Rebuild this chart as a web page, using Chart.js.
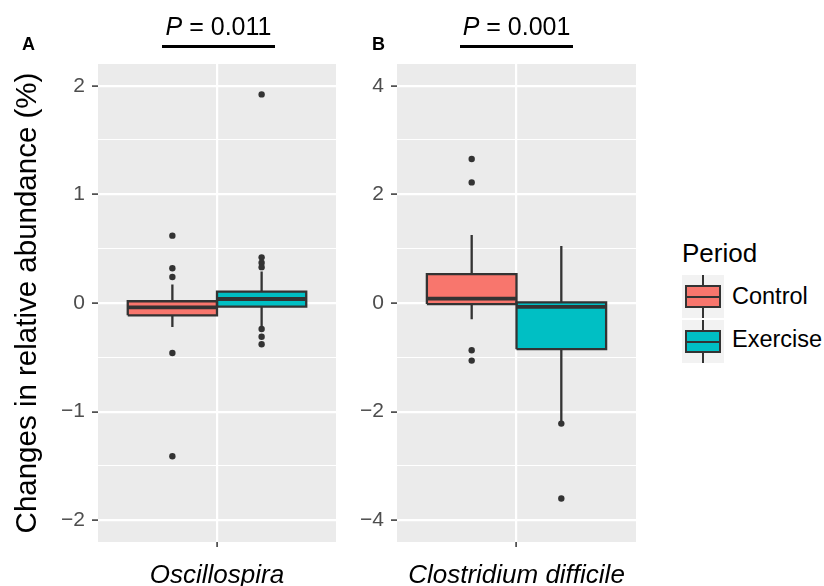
<!DOCTYPE html>
<html>
<head>
<meta charset="utf-8">
<script src="https://cdn.jsdelivr.net/npm/chart.js@4.4.1/dist/chart.umd.min.js"></script>
<style>
  body { margin: 0; background: #fff; font-family: "Liberation Sans", Arial, sans-serif; }
  #wrap { position: relative; width: 824px; height: 586px; overflow: hidden; }
  canvas { position: absolute; top: 0; }
  .txt { position: absolute; line-height: 1; white-space: nowrap; color: #000; }
  .tag { font-size: 18px; font-weight: bold; }
  .ptitle { font-size: 25px; width: 200px; text-align: center; }
  .uline { position: absolute; height: 2.5px; background: #000; }
  .key { position: absolute; left: 682px; width: 42px; height: 43px; background: #F2F2F2; }
  .key .wh { position: absolute; left: 20px; top: 0; width: 2px; height: 43px; background: #333; }
  .key .bx { position: absolute; left: 3px; top: 10px; width: 32px; height: 19px; border: 2px solid #333; }
  .key .md { position: absolute; left: 3px; top: 20.5px; width: 36px; height: 2px; background: #333; }
</style>
</head>
<body>
<div id="wrap">
  <canvas id="chartA" width="340" height="586" style="left:0"></canvas>
  <canvas id="chartB" width="300" height="586" style="left:340px"></canvas>

  <div class="txt tag" style="left:22px;top:35px">A</div>
  <div class="txt tag" style="left:372px;top:35px">B</div>

  <div class="txt ptitle" id="pA" style="left:118.5px;top:13.5px"></div>
  <div class="uline" style="left:162px;top:45px;width:113px"></div>
  <div class="txt ptitle" id="pB" style="left:416.5px;top:13.5px"></div>
  <div class="uline" style="left:460px;top:45px;width:113px"></div>

  <div class="txt" style="left:682px;top:240px;font-size:26px">Period</div>
  <div class="key" style="top:275px"><div class="wh"></div><div class="bx" style="background:#F8766D"></div><div class="md"></div></div>
  <div class="key" style="top:320px"><div class="wh"></div><div class="bx" style="background:#00BFC4"></div><div class="md"></div></div>
  <div class="txt" id="lab0" style="left:732px;top:285px;font-size:23.5px"></div>
  <div class="txt" id="lab1" style="left:732px;top:328px;font-size:23.5px"></div>
</div>

<script>
const taxa = ['Oscillospira', 'Clostridium difficile'];
const periods = ['Control', 'Exercise'];
const pValues = ['0.011', '0.001'];

// Oscillospira (panel A)
const oscLower = [-0.22, -0.22];
const oscQ1 = [-0.113, -0.034];
const oscMedian = [-0.04, 0.037];
const oscQ3 = [0.016, 0.104];
const oscUpper = [0.17, 0.29];
const oscOutliers = [
  [0.62, 0.32, 0.24, -0.46, -1.41],
  [1.92, 0.42, 0.37, 0.33, -0.24, -0.31, -0.38]
];

// Clostridium difficile (panel B)
const cdLower = [-0.30, -2.22];
const cdQ1 = [-0.02, -0.85];
const cdMedian = [0.08, -0.07];
const cdQ3 = [0.53, 0.01];
const cdUpper = [1.25, 1.05];
const cdOutliers = [
  [2.65, 2.22, -0.87, -1.06],
  [-2.22, -3.6]
];

// tick labels and grid positions
const labelsA = [-2, -1, 0, 1, 2];
const gridA = [-2, -1.5, -1, -0.5, 0, 0.5, 1, 1.5, 2];
const labelsB = [-4, -2, 0, 2, 4];
const gridB = [-4, -3, -2, -1, 0, 1, 2, 3, 4];

// box x positions (dodged, category at 0, range -0.5..0.5)
const boxLeft = [-0.375, 0];
const boxRight = [0, 0.375];

const fills = ['#F8766D', '#00BFC4'];
const dark = '#333333';

Chart.defaults.font.family = '"Liberation Sans", Arial, sans-serif';

document.getElementById('pA').innerHTML = '<i>P</i> = ' + pValues[0];
document.getElementById('pB').innerHTML = '<i>P</i> = ' + pValues[1];
document.getElementById('lab0').textContent = periods[0];
document.getElementById('lab1').textContent = periods[1];

const panelBg = {
  id: 'panelBg',
  beforeDraw(chart) {
    const a = chart.chartArea;
    const ctx = chart.ctx;
    ctx.save();
    ctx.fillStyle = '#EBEBEB';
    ctx.fillRect(a.left, a.top, a.right - a.left, a.bottom - a.top);
    ctx.restore();
  }
};

const fmt = v => (v < 0 ? '\u2212' + Math.abs(v) : String(v));

function makePanel(id, o) {
  const datasets = [];
  periods.forEach((p, i) => {
    const x0 = boxLeft[i], x1 = boxRight[i], c = (x0 + x1) / 2;
    const line = { type: 'line', pointRadius: 0, fill: false, borderColor: dark,
                   borderCapStyle: 'butt', borderJoinStyle: 'miter', tension: 0 };
    // whiskers
    datasets.push({ ...line, label: p + ' whisker', borderWidth: 2.3, order: 5,
      data: [{x: c, y: o.q3[i]}, {x: c, y: o.hi[i]}, {x: c, y: null}, {x: c, y: o.q1[i]}, {x: c, y: o.lo[i]}] });
    // box fill
    datasets.push({ ...line, label: p, borderWidth: 0, order: 4,
      fill: { value: o.q1[i] }, backgroundColor: fills[i],
      data: [{x: x0, y: o.q3[i]}, {x: x1, y: o.q3[i]}] });
    // box outline
    datasets.push({ ...line, label: p + ' box', borderWidth: 2.3, order: 2,
      data: [{x: x0, y: o.q1[i]}, {x: x0, y: o.q3[i]}, {x: x1, y: o.q3[i]}, {x: x1, y: o.q1[i]}, {x: x0, y: o.q1[i]}] });
    // median
    datasets.push({ ...line, label: p + ' median', borderWidth: 3.8, order: 1,
      data: [{x: x0, y: o.med[i]}, {x: x1, y: o.med[i]}] });
    // outliers
    datasets.push({ type: 'scatter', label: p + ' outliers', order: 0,
      data: o.out[i].map(v => ({x: c, y: v})),
      pointRadius: 3.2, pointBackgroundColor: dark, pointBorderWidth: 0 });
  });

  return new Chart(document.getElementById(id), {
    type: 'scatter',
    data: { datasets },
    options: {
      responsive: false,
      animation: false,
      layout: { padding: { top: 64, right: o.padRight, left: 0, bottom: 0 } },
      plugins: { legend: { display: false }, tooltip: { enabled: false } },
      scales: {
        x: {
          type: 'linear', min: -0.5, max: 0.5, offset: false,
          afterBuildTicks: s => { s.ticks = [{ value: 0 }]; },
          afterFit: s => { s.height = 44; },
          border: { display: false },
          grid: { color: '#fff', lineWidth: 2.2, tickColor: dark, tickLength: 5, tickWidth: 1.5 },
          ticks: { color: '#000', padding: 13, font: { size: 26, style: 'italic' },
                   callback: () => o.taxon }
        },
        y: {
          type: 'linear', min: o.yMin, max: o.yMax,
          afterBuildTicks: s => { s.ticks = o.grid.map(v => ({ value: v })); },
          afterFit: s => { s.width = o.axisWidth; },
          border: { display: false },
          grid: {
            color: '#fff',
            lineWidth: ctx => (o.labels.includes(ctx.tick.value) ? 2.2 : 1.1),
            tickColor: ctx => (o.labels.includes(ctx.tick.value) ? dark : 'rgba(0,0,0,0)'),
            tickLength: 6, tickWidth: 1.5
          },
          ticks: {
            autoSkip: false, color: '#4D4D4D', padding: 7, font: { size: 21 },
            callback: v => (o.labels.includes(v) ? fmt(v) : '')
          },
          title: {
            display: !!o.yTitle, text: o.yTitle || '', color: '#000',
            font: { size: 29.5 }, padding: { top: 10, bottom: 0 }
          }
        }
      }
    },
    plugins: [panelBg]
  });
}

makePanel('chartA', {
  taxon: taxa[0], q1: oscQ1, med: oscMedian, q3: oscQ3, lo: oscLower, hi: oscUpper, out: oscOutliers,
  yMin: -2.2, yMax: 2.2, labels: labelsA, grid: gridA,
  yTitle: 'Changes in relative abundance (%)', axisWidth: 98, padRight: 1
});

makePanel('chartB', {
  taxon: taxa[1], q1: cdQ1, med: cdMedian, q3: cdQ3, lo: cdLower, hi: cdUpper, out: cdOutliers,
  yMin: -4.4, yMax: 4.4, labels: labelsB, grid: gridB,
  yTitle: null, axisWidth: 57, padRight: 4
});
</script>
</body>
</html>
